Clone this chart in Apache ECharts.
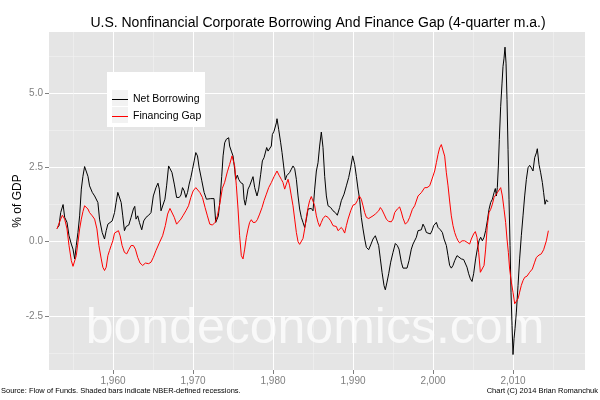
<!DOCTYPE html>
<html>
<head>
<meta charset="utf-8">
<script src="https://cdn.jsdelivr.net/npm/echarts@6/dist/echarts.min.js"></script>
<style>
  html, body { margin: 0; padding: 0; background: #fff; }
  #chart { width: 600px; height: 400px; }
</style>
</head>
<body>
<div id="chart"></div>
<script>
// Net Borrowing (black), % of GDP, 4-quarter m.a.
var nbYears = [1953.0,1953.25,1953.46,1953.76,1953.96,1954.25,1954.5,1954.79,1955.0,1955.21,1955.41,1955.62,1955.83,1956.04,1956.24,1956.45,1956.66,1956.87,1957.07,1957.41,1957.7,1957.9,1958.11,1958.32,1958.65,1958.94,1959.15,1959.36,1959.56,1959.9,1960.19,1960.39,1960.6,1960.81,1961.02,1961.22,1961.43,1961.64,1961.97,1962.26,1962.55,1962.72,1962.88,1963.09,1963.3,1963.59,1963.84,1964.13,1964.46,1964.75,1965.04,1965.37,1965.62,1965.79,1966.0,1966.2,1966.49,1966.7,1966.95,1967.12,1967.37,1967.66,1967.95,1968.28,1968.49,1968.69,1968.9,1969.11,1969.32,1969.52,1969.73,1969.94,1970.15,1970.35,1970.56,1970.77,1971.1,1971.39,1971.68,1971.93,1972.22,1972.63,1972.84,1972.97,1973.17,1973.34,1973.59,1973.76,1973.96,1974.17,1974.46,1974.58,1974.79,1975.0,1975.21,1975.33,1975.54,1975.71,1975.96,1976.25,1976.38,1976.54,1976.67,1976.88,1977.08,1977.29,1977.5,1977.71,1978.0,1978.21,1978.46,1978.67,1978.88,1979.04,1979.21,1979.38,1979.58,1979.79,1979.92,1980.13,1980.29,1980.42,1980.5,1980.71,1980.96,1981.13,1981.33,1981.54,1981.71,1981.88,1982.08,1982.29,1982.5,1982.71,1982.92,1983.13,1983.33,1983.54,1983.75,1983.96,1984.17,1984.38,1984.79,1985.0,1985.21,1985.42,1985.63,1985.83,1986.04,1986.25,1986.46,1986.67,1986.88,1987.21,1987.5,1987.79,1988.04,1988.33,1988.54,1988.88,1989.17,1989.46,1989.71,1989.96,1990.21,1990.42,1990.63,1990.83,1991.04,1991.25,1991.46,1991.67,1991.96,1992.21,1992.5,1992.79,1993.04,1993.21,1993.42,1993.63,1993.88,1994.04,1994.25,1994.46,1994.71,1995.0,1995.29,1995.54,1995.75,1996.04,1996.25,1996.46,1996.75,1997.0,1997.29,1997.5,1997.71,1997.92,1998.13,1998.33,1998.54,1998.75,1998.96,1999.17,1999.38,1999.67,1999.88,2000.08,2000.42,2000.63,2000.92,2001.17,2001.38,2001.67,2001.88,2002.08,2002.29,2002.5,2002.71,2003.0,2003.25,2003.54,2003.83,2004.08,2004.25,2004.46,2004.67,2004.88,2005.08,2005.33,2005.54,2005.75,2005.96,2006.17,2006.38,2006.58,2006.79,2007.0,2007.21,2007.42,2007.63,2007.79,2007.92,2008.04,2008.17,2008.29,2008.46,2008.63,2008.75,2008.88,2009.0,2009.13,2009.25,2009.38,2009.5,2009.63,2009.75,2009.88,2010.0,2010.13,2010.25,2010.42,2010.63,2010.83,2011.04,2011.25,2011.46,2011.67,2011.88,2012.08,2012.29,2012.5,2012.71,2012.92,2013.04,2013.25,2013.46,2013.67,2013.83,2014.0,2014.17,2014.38];
var nbValues = [0.45,0.54,0.98,1.25,0.82,0.65,0.2,-0.08,-0.25,-0.58,-0.13,0.31,0.87,1.77,2.2,2.53,2.49,2.2,1.88,1.66,1.54,1.6,1.32,0.76,0.31,0.09,0.37,0.59,0.65,0.7,0.98,1.32,1.66,1.71,1.32,0.87,0.37,0.51,0.56,0.82,1.1,1.19,0.76,0.87,0.65,0.4,0.7,0.82,0.89,0.98,1.54,1.82,1.97,1.77,1.04,1.1,1.43,1.88,2.55,2.6,2.33,1.94,1.49,1.49,1.57,1.82,1.71,1.49,1.66,1.94,2.16,2.44,2.72,3.0,2.89,2.49,2.05,1.66,1.43,1.38,1.45,1.45,0.65,0.59,0.87,1.32,2.2,2.89,3.33,3.45,3.5,3.22,3.05,2.89,2.44,2.1,2.24,2.1,1.99,1.94,1.43,1.23,1.43,1.77,1.88,1.94,2.19,1.82,1.54,1.77,2.27,2.72,2.83,2.77,3.17,3.05,3.11,3.22,3.61,3.72,3.69,4.0,4.14,3.78,3.33,3.0,2.55,2.08,2.22,2.27,2.33,2.44,2.55,2.46,2.1,1.54,1.1,0.82,0.65,0.48,0.76,1.1,1.12,1.04,1.77,2.38,2.66,3.22,3.69,3.17,2.2,1.54,1.21,1.15,1.04,0.98,0.89,1.15,1.38,1.6,1.88,2.16,2.49,2.89,2.6,2.2,1.77,1.43,0.82,0.43,0.09,-0.19,-0.27,-0.11,0.09,0.2,0.25,-0.13,-0.58,-1.03,-1.48,-1.62,-1.36,-1.08,-0.69,-0.36,-0.06,-0.13,-0.25,-0.69,-0.89,-0.89,-0.89,-0.64,-0.25,-0.08,-0.02,0.15,0.37,0.4,0.4,0.59,0.48,0.31,0.26,0.26,0.37,0.54,0.65,0.48,0.4,0.31,0.09,-0.13,-0.47,-0.8,-0.89,-0.8,-0.64,-0.47,-0.53,-0.58,-0.6,-0.64,-0.86,-1.08,-1.25,-1.34,-1.08,-0.58,-0.25,0.03,0.15,0.03,0.15,0.37,0.7,1.09,1.32,1.43,1.65,1.79,1.54,1.82,2.55,3.44,4.56,5.34,5.9,6.18,6.55,6.01,4.78,3.11,1.43,-0.13,-1.7,-2.82,-3.8,-3.26,-2.93,-2.37,-1.47,-0.58,0.2,0.87,1.54,2.1,2.49,2.57,2.49,2.38,2.83,2.99,3.13,2.6,2.32,1.99,1.65,1.26,1.41,1.34];

// Financing Gap (red)
var gapYears = [1953.0,1953.25,1953.46,1953.67,1953.96,1954.25,1954.5,1954.79,1955.0,1955.21,1955.41,1955.62,1955.83,1956.04,1956.24,1956.45,1956.66,1956.87,1957.07,1957.41,1957.7,1957.99,1958.24,1958.53,1958.73,1958.94,1959.15,1959.36,1959.56,1959.77,1959.98,1960.19,1960.39,1960.68,1960.89,1961.14,1961.43,1961.72,1961.97,1962.26,1962.55,1962.8,1963.09,1963.38,1963.71,1964.05,1964.46,1964.75,1965.04,1965.37,1965.79,1966.2,1966.54,1966.83,1967.12,1967.37,1967.66,1967.95,1968.2,1968.49,1968.78,1969.11,1969.44,1969.73,1970.02,1970.35,1970.56,1970.85,1971.18,1971.51,1971.8,1972.1,1972.43,1972.76,1973.05,1973.34,1973.67,1973.96,1974.29,1974.58,1974.88,1975.0,1975.21,1975.42,1975.63,1975.83,1976.04,1976.25,1976.46,1976.67,1976.88,1977.08,1977.29,1977.5,1977.79,1978.04,1978.33,1978.63,1978.88,1979.17,1979.46,1979.79,1980.13,1980.5,1980.75,1981.04,1981.25,1981.46,1981.67,1981.88,1982.08,1982.29,1982.5,1982.71,1982.92,1983.13,1983.33,1983.54,1983.75,1983.96,1984.17,1984.38,1984.58,1984.79,1985.0,1985.21,1985.42,1985.63,1985.83,1986.04,1986.25,1986.54,1986.88,1987.21,1987.5,1987.71,1987.92,1988.13,1988.33,1988.54,1988.75,1988.96,1989.17,1989.38,1989.71,1990.0,1990.29,1990.54,1990.79,1991.04,1991.25,1991.46,1991.67,1991.96,1992.21,1992.5,1992.79,1993.04,1993.21,1993.42,1993.63,1993.88,1994.17,1994.46,1994.79,1995.0,1995.21,1995.54,1995.83,1996.04,1996.25,1996.54,1996.83,1997.08,1997.42,1997.71,1997.92,1998.13,1998.33,1998.54,1998.75,1998.96,1999.25,1999.58,1999.79,2000.0,2000.21,2000.42,2000.63,2000.83,2001.04,2001.25,2001.46,2001.67,2001.88,2002.08,2002.29,2002.5,2002.71,2002.92,2003.13,2003.33,2003.63,2003.96,2004.25,2004.58,2004.79,2005.08,2005.29,2005.5,2005.71,2005.92,2006.17,2006.38,2006.58,2006.79,2007.0,2007.21,2007.42,2007.63,2007.83,2008.04,2008.25,2008.46,2008.67,2008.88,2009.08,2009.25,2009.42,2009.58,2009.79,2010.0,2010.21,2010.42,2010.63,2010.83,2011.04,2011.25,2011.46,2011.75,2012.08,2012.42,2012.71,2012.92,2013.25,2013.54,2013.83,2014.17,2014.42];
var gapValues = [0.43,0.4,0.76,0.89,0.76,0.43,-0.13,-0.64,-0.83,-0.8,-0.47,-0.02,0.43,0.76,1.01,1.21,1.23,1.1,0.98,0.87,0.76,0.43,-0.13,-0.58,-0.86,-0.97,-0.86,-0.47,-0.3,-0.13,0.03,0.29,0.31,0.37,0.2,-0.13,-0.36,-0.41,-0.27,-0.13,-0.13,-0.25,-0.53,-0.72,-0.8,-0.72,-0.74,-0.69,-0.53,-0.3,-0.04,0.2,0.54,0.93,1.12,1.1,0.82,0.59,0.59,0.76,0.89,1.04,1.21,1.49,1.71,1.82,1.79,1.66,1.49,1.15,0.87,0.59,0.56,0.65,0.87,1.26,1.8,2.0,2.35,2.6,2.89,2.94,2.55,1.88,1.1,0.2,-0.47,-0.58,-0.25,0.15,0.43,0.65,0.74,0.65,0.65,0.74,0.93,1.15,1.38,1.6,1.82,1.99,2.19,2.38,2.24,2.1,1.99,1.77,1.94,2.1,1.88,1.54,1.21,0.76,0.31,0.0,-0.09,-0.05,0.11,0.43,0.82,1.15,1.38,1.52,1.49,1.21,0.87,0.65,0.51,0.65,0.78,0.87,0.82,0.7,0.54,0.59,0.51,0.37,0.34,0.48,0.4,0.29,0.54,0.76,1.04,1.23,1.26,1.38,1.54,1.43,1.21,0.98,0.82,0.78,0.76,0.87,0.93,0.89,1.04,1.15,1.07,0.93,0.76,0.68,0.67,0.76,0.98,1.1,1.17,1.0,0.79,0.59,0.67,0.82,1.09,1.21,1.26,1.54,1.6,1.65,1.71,1.82,1.82,1.88,2.04,2.21,2.38,2.66,2.94,3.16,3.27,3.22,2.88,2.32,1.88,1.37,0.87,0.54,0.31,0.15,0.03,-0.04,0.03,0.03,-0.02,-0.08,0.09,0.26,0.34,0.15,-0.36,-1.03,-1.08,-0.8,-0.25,0.54,0.98,1.09,1.26,1.49,1.54,1.65,1.71,1.82,1.54,1.09,0.65,0.09,-0.36,-0.92,-1.36,-1.7,-2.09,-2.15,-1.92,-1.7,-1.47,-1.31,-1.2,-1.16,-1.03,-0.92,-0.69,-0.53,-0.45,-0.41,-0.27,0.03,0.37];

var xMajor = [1960, 1970, 1980, 1990, 2000, 2010];
var xMinor = [1955, 1965, 1975, 1985, 1995, 2005, 2015];
var yMajor = [-2.5, 0, 2.5, 5];
var yMinor = [-3.75, -1.25, 1.25, 3.75, 6.25];

function zip(xs, ys) {
  var out = [];
  for (var i = 0; i < xs.length; i++) out.push([xs[i], ys[i]]);
  return out;
}

var FONT = "'Liberation Sans', Arial, sans-serif";
var LINE_ICON = 'path://M0,7.5 L16,7.5 L16,8.5 L0,8.5 Z';
var chart = echarts.init(document.getElementById('chart'), null, {renderer: 'canvas'});

var option = {
  animation: false,
  backgroundColor: '#ffffff',
  textStyle: {fontFamily: FONT},
  grid: {left: 49, right: 15, top: 32, bottom: 30, show: true, backgroundColor: '#e5e5e5', borderWidth: 0},
  xAxis: [
    {
      type: 'value', min: 1952, max: 2019,
      axisLine: {show: false, onZero: false},
      axisTick: {show: true, length: 4, customValues: xMajor, lineStyle: {color: '#7f7f7f', width: 1}},
      axisLabel: {customValues: xMajor, color: '#7f7f7f', fontSize: 10, margin: 6, fontFamily: FONT},
      splitLine: {show: true, lineStyle: {color: '#ffffff', width: 1}}
    },
    {
      type: 'value', min: 1952, max: 2019, position: 'bottom',
      axisLine: {show: false, onZero: false},
      axisTick: {show: false, customValues: xMinor},
      axisLabel: {show: false, customValues: xMinor},
      splitLine: {show: true, lineStyle: {color: '#f2f2f2', width: 0.6}}
    }
  ],
  yAxis: [
    {
      type: 'value', min: -4.32, max: 7.06,
      axisLine: {show: false, onZero: false},
      axisTick: {show: true, length: 4, customValues: yMajor, lineStyle: {color: '#7f7f7f', width: 1}},
      axisLabel: {customValues: yMajor, color: '#7f7f7f', fontSize: 10, margin: 6, fontFamily: FONT,
        formatter: function (v) { return v.toFixed(1); }},
      splitLine: {show: true, lineStyle: {color: '#ffffff', width: 1}}
    },
    {
      type: 'value', min: -4.32, max: 7.06, position: 'left',
      axisLine: {show: false, onZero: false},
      axisTick: {show: false, customValues: yMinor},
      axisLabel: {show: false, customValues: yMinor},
      splitLine: {show: true, lineStyle: {color: '#f2f2f2', width: 0.6}}
    }
  ],
  legend: {
    orient: 'vertical', left: 112, top: 94, padding: 0,
    itemWidth: 16, itemHeight: 16, itemGap: 6, z: 6,
    textStyle: {fontSize: 10.5, color: '#000', fontFamily: FONT},
    data: [
      {name: 'Net Borrowing', icon: LINE_ICON},
      {name: 'Financing Gap', icon: LINE_ICON}
    ]
  },
  graphic: [
    {type: 'text', z: 1, silent: true, style: {x: 315, y: 354, text: 'bondeconomics.com', align: 'center', verticalAlign: 'bottom',
      font: '50px ' + FONT, fill: 'rgba(255,255,255,0.75)'}},
    {type: 'rect', z: 5, silent: true, shape: {x: 107, y: 72, width: 98, height: 55}, style: {fill: '#ffffff'}},
    {type: 'rect', z: 5, silent: true, shape: {x: 112, y: 90, width: 16, height: 16}, style: {fill: '#f2f2f2'}},
    {type: 'rect', z: 5, silent: true, shape: {x: 112, y: 107, width: 16, height: 16}, style: {fill: '#f2f2f2'}},
    {type: 'text', silent: true, style: {x: 318, y: 23, text: 'U.S. Nonfinancial Corporate Borrowing And Finance Gap (4-quarter m.a.)',
      align: 'center', verticalAlign: 'middle', font: '14px ' + FONT, fill: '#000'}},
    {type: 'text', silent: true, rotation: Math.PI / 2, x: 18, y: 201, style: {x: 0, y: 0, text: '% of GDP',
      align: 'center', verticalAlign: 'middle', font: '12px ' + FONT, fill: '#000'}},
    {type: 'text', silent: true, style: {x: 1, y: 391, text: 'Source: Flow of Funds. Shaded bars indicate NBER-defined recessions.',
      align: 'left', verticalAlign: 'middle', font: '7.5px ' + FONT, fill: '#000'}},
    {type: 'text', silent: true, style: {x: 598, y: 391, text: 'Chart (C) 2014 Brian Romanchuk',
      align: 'right', verticalAlign: 'middle', font: '7.5px ' + FONT, fill: '#000'}}
  ],
  series: [
    {name: 'Net Borrowing', type: 'line', symbol: 'none', showSymbol: false, z: 3,
      color: '#000000', lineStyle: {color: '#000000', width: 1}, data: zip(nbYears, nbValues)},
    {name: 'Financing Gap', type: 'line', symbol: 'none', showSymbol: false, z: 3,
      color: '#ff0000', lineStyle: {color: '#ff0000', width: 1}, data: zip(gapYears, gapValues)}
  ]
};
chart.setOption(option);
</script>
</body>
</html>
